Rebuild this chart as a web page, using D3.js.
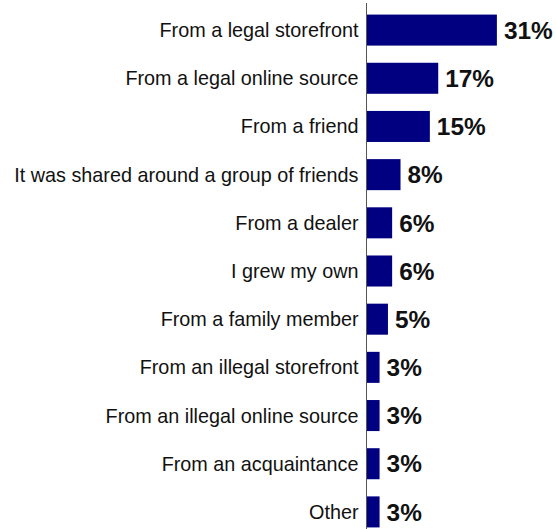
<!DOCTYPE html>
<html>
<head>
<meta charset="utf-8">
<script src="https://cdn.jsdelivr.net/npm/d3@7"></script>
<style>
  html, body { margin: 0; padding: 0; background: #fff; }
  svg { display: block; }
</style>
</head>
<body>
<script>
// Where the product was obtained (share of respondents, %)
const categories = [
  "From a legal storefront",
  "From a legal online source",
  "From a friend",
  "It was shared around a group of friends",
  "From a dealer",
  "I grew my own",
  "From a family member",
  "From an illegal storefront",
  "From an illegal online source",
  "From an acquaintance",
  "Other"
];
const values = [31, 17, 15, 8, 6, 6, 5, 3, 3, 3, 3];

const W = 556, H = 529;
const axisX = 367;

const svg = d3.select("body").append("svg")
  .attr("width", W).attr("height", H);

const x = d3.scaleLinear().domain([0, 100]).range([axisX, axisX + 419]);
const y = d3.scaleBand().domain(categories).range([6, 536])
  .paddingInner(0.356).paddingOuter(0.178);

// Bars
svg.selectAll("rect.bar").data(categories).join("rect")
  .attr("class", "bar")
  .attr("x", x(0))
  .attr("y", d => y(d))
  .attr("width", (d, i) => x(values[i]) - x(0))
  .attr("height", y.bandwidth())
  .attr("fill", "#000080");

// Vertical axis line
svg.append("line")
  .attr("x1", axisX - 0.5).attr("x2", axisX - 0.5)
  .attr("y1", 3).attr("y2", H)
  .attr("stroke", "#555").attr("stroke-width", 1);

// Category labels
svg.selectAll("text.cat").data(categories).join("text")
  .attr("class", "cat")
  .attr("x", axisX - 8.5)
  .attr("y", d => y(d) + y.bandwidth() / 2 + 7)
  .attr("text-anchor", "end")
  .attr("font-family", "Liberation Sans, Arial, sans-serif")
  .attr("font-size", 19.8)
  .attr("fill", "#111")
  .text(d => d);

// Value labels
svg.selectAll("text.val").data(categories).join("text")
  .attr("class", "val")
  .attr("x", (d, i) => x(values[i]) + 7)
  .attr("y", d => y(d) + y.bandwidth() / 2 + 8.7)
  .attr("font-family", "Liberation Sans, Arial, sans-serif")
  .attr("font-weight", "bold")
  .attr("font-size", 24.4)
  .attr("fill", "#111")
  .text((d, i) => values[i] + "%");
</script>
</body>
</html>
